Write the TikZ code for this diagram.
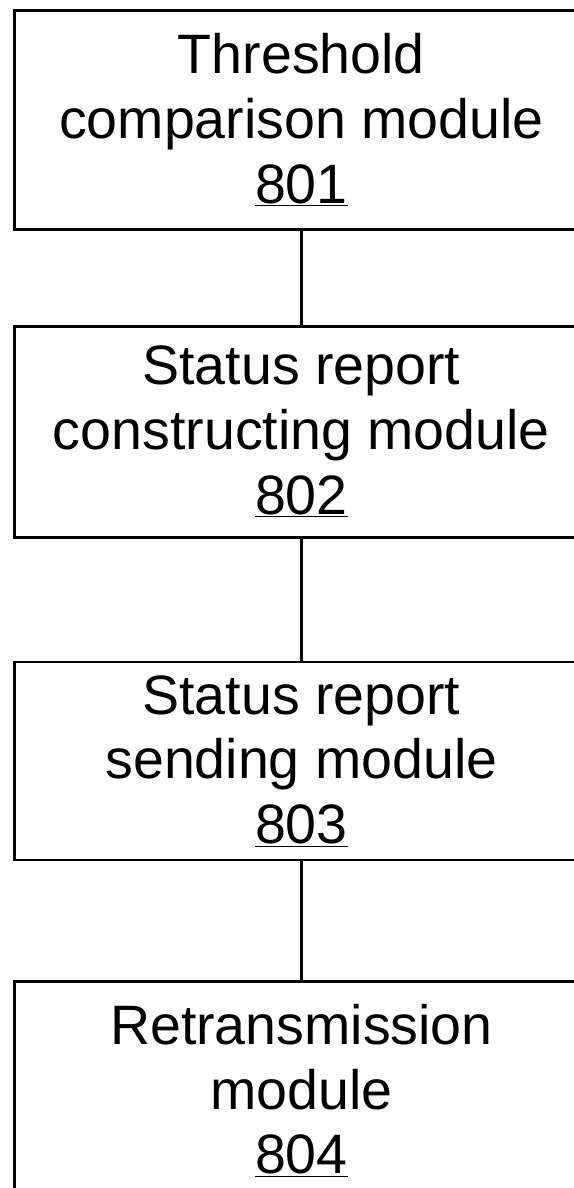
\documentclass[tikz,border=0pt]{standalone}
\usepackage{fontspec}
\setmainfont{Liberation Sans}
\usepackage{tikz}
\usetikzlibrary{positioning}
\tikzstyle{module} = [rectangle, draw=black, line width=2pt, minimum width=14.35cm,
inner sep=0pt, align=center, font=\fontsize{39.5}{46}\selectfont]
\tikzstyle{link} = [line width=2pt]

\begin{document}
\begin{tikzpicture}
  \clip (0,0) rectangle (14.35,-29.7);
  \path[use as bounding box] (0,0) rectangle (14.35,-29.7);

  \node (m801) [module, minimum height=5.475cm, anchor=north west] at (0.325,-0.225)
  {Threshold\\comparison module\\\underline{801}};
  \node (m802) [module, minimum height=5.275cm, below=2.35cm of m801]
  {Status report\\constructing module\\\underline{802}};
  \node (m803) [module, minimum height=4.95cm, below=3.05cm of m802]
  {Status report\\sending module\\\underline{803}};
  \node (m804) [module, minimum height=5.45cm, below=2.975cm of m803]
  {Retransmission\\module\\\underline{804}};

  \draw[link] (m801) -- (m802);
  \draw[link] (m802) -- (m803);
  \draw[link] (m803) -- (m804);
\end{tikzpicture}
\end{document}
